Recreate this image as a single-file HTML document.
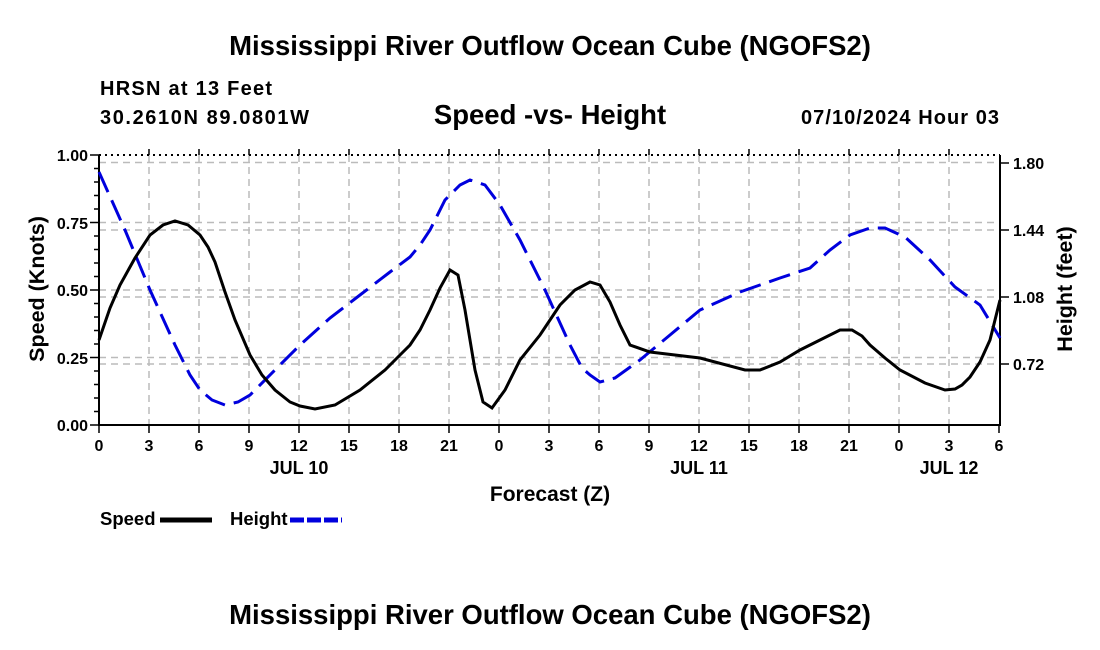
<!DOCTYPE html>
<html><head><style>body{margin:0;background:#fff}svg{display:block}text{font-family:"Liberation Sans",sans-serif;font-weight:bold;fill:#000}</style></head>
<body>
<svg width="1100" height="650" viewBox="0 0 1100 650">
<text x="550" y="55" font-size="27.5" text-anchor="middle">Mississippi River Outflow Ocean Cube (NGOFS2)</text>
<text x="100" y="95" font-size="20" textLength="172">HRSN at 13 Feet</text>
<text x="100" y="124" font-size="20" textLength="209">30.2610N  89.0801W</text>
<text x="550" y="124" font-size="27.5" text-anchor="middle">Speed -vs- Height</text>
<text x="801" y="124" font-size="20" textLength="198">07/10/2024 Hour 03</text>
<g stroke="#bbb" stroke-width="1.5" stroke-dasharray="7,5" fill="none">
<path d="M99 162.5H1000M99 222.5H1000M99 230H1000M99 290H1000M99 297H1000M99 357.5H1000M99 364H1000"/>
<path d="M149 155V425M199 155V425M249 155V425M299 155V425M349 155V425M399 155V425M449 155V425M499 155V425M549 155V425M599 155V425M649 155V425M699 155V425M749 155V425M799 155V425M849 155V425M899 155V425M949 155V425"/>
</g>
<path d="M99 155H1000" stroke="#000" stroke-width="2" stroke-dasharray="2,4"/>
<path d="M99 155V425H1000V155" stroke="#000" stroke-width="2" fill="none"/>
<g stroke="#000" stroke-width="1.5">
<path d="M90 155H99M90 222.5H99M90 290H99M90 357.5H99M90 425H99M94 168.5H99M94 182H99M94 195.5H99M94 209H99M94 236H99M94 249.5H99M94 263H99M94 276.5H99M94 303.5H99M94 317H99M94 330.5H99M94 344H99M94 371H99M94 384.5H99M94 398H99M94 411.5H99"/>
<path d="M1000 163H1009M1000 230H1009M1000 297H1009M1000 364H1009"/>
<path d="M99 425V433M149 425V433M199 425V433M249 425V433M299 425V433M349 425V433M399 425V433M449 425V433M499 425V433M549 425V433M599 425V433M649 425V433M699 425V433M749 425V433M799 425V433M849 425V433M899 425V433M949 425V433M999 425V433"/>
<path d="M149 155V149M199 155V149M249 155V149M299 155V149M349 155V149M399 155V149M449 155V149M499 155V149M549 155V149M599 155V149M649 155V149M699 155V149M749 155V149M799 155V149M849 155V149M899 155V149M949 155V149"/>
</g>
<g font-size="16" text-anchor="end">
<text x="88" y="161">1.00</text><text x="88" y="229">0.75</text><text x="88" y="296">0.50</text><text x="88" y="364">0.25</text><text x="88" y="431">0.00</text>
</g>
<g font-size="16">
<text x="1013" y="169">1.80</text><text x="1013" y="236">1.44</text><text x="1013" y="303">1.08</text><text x="1013" y="370">0.72</text>
</g>
<g font-size="16" text-anchor="middle">
<text x="99" y="451">0</text><text x="149" y="451">3</text><text x="199" y="451">6</text><text x="249" y="451">9</text><text x="299" y="451">12</text><text x="349" y="451">15</text><text x="399" y="451">18</text><text x="449" y="451">21</text><text x="499" y="451">0</text><text x="549" y="451">3</text><text x="599" y="451">6</text><text x="649" y="451">9</text><text x="699" y="451">12</text><text x="749" y="451">15</text><text x="799" y="451">18</text><text x="849" y="451">21</text><text x="899" y="451">0</text><text x="949" y="451">3</text><text x="999" y="451">6</text>
<text x="299" y="474" font-size="18">JUL 10</text><text x="699" y="474" font-size="18">JUL 11</text><text x="949" y="474" font-size="18">JUL 12</text>
<text x="550" y="501" font-size="21">Forecast (Z)</text>
</g>
<text transform="translate(44,289) rotate(-90)" font-size="21.5" text-anchor="middle">Speed (Knots)</text>
<text transform="translate(1072,289) rotate(-90)" font-size="21.5" text-anchor="middle">Height (feet)</text>
<polyline fill="none" stroke="#0000dd" stroke-width="3" stroke-dasharray="22,9" points="99,172 125,230 150,290 175,345 190,375 200,390 212,400 225,405 238,402 250,395 275,370 300,345 330,318 360,295 390,272 410,257 420,245 430,230 445,200 460,185 470,180 485,185 500,205 520,240 545,290 570,345 582,368 590,375 600,382 615,378 640,360 670,335 700,310 740,292 780,278 810,268 830,250 850,235 870,228 885,228 905,237 930,260 955,287 980,305 1000,338"/>
<polyline fill="none" stroke="#000" stroke-width="3" points="99,340 110,308 120,285 135,258 150,235 163,225 175,221 188,225 200,235 208,247 215,262 225,292 235,320 250,355 262,375 275,390 290,402 300,406 315,409 335,405 360,390 385,370 400,355 410,345 420,330 430,310 440,288 450,270 458,275 465,310 470,340 475,370 483,402 492,408 505,390 520,360 540,335 560,305 575,290 590,282 600,285 610,302 620,325 630,345 650,352 700,358 745,370 760,370 780,362 800,350 820,340 840,330 852,330 862,336 870,345 885,358 900,370 925,383 945,390 955,389 962,385 970,377 980,362 990,340 1000,300"/>
<text x="100" y="525" font-size="18.5">Speed</text>
<path d="M160 520H212" stroke="#000" stroke-width="5"/>
<text x="230" y="525" font-size="18.5">Height</text>
<path d="M290 520H342" stroke="#0000dd" stroke-width="5" stroke-dasharray="14,3"/>
<text x="550" y="624" font-size="27.5" text-anchor="middle">Mississippi River Outflow Ocean Cube (NGOFS2)</text>
</svg>
</body></html>
